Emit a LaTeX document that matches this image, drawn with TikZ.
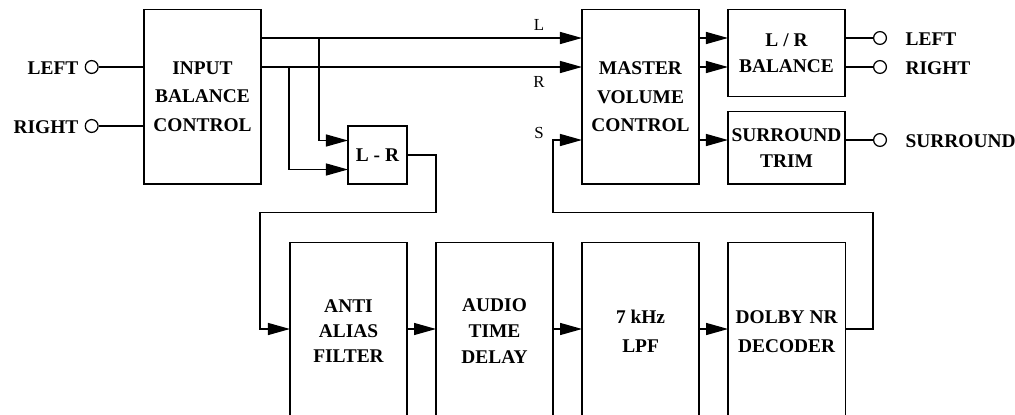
\documentclass[tikz,border=0pt]{standalone}
\usepackage{fontspec}
\setmainfont{Liberation Serif}
\usetikzlibrary{arrows.meta, positioning}

\begin{document}
\begin{tikzpicture}[
                x=0.025cm, y=-0.025cm,
                line width=0.9pt,
                node distance=0.725cm,
                block/.style={rectangle, draw=black, inner sep=0pt, outer sep=0pt, minimum width=2.925cm, align=center, font=\fontsize{13.8}{20.5}\selectfont\bfseries},
                tall/.style={block, minimum height=4.4325cm},
                jack/.style={circle, draw=black, fill=white, minimum size=0.32cm, inner sep=0pt},
                port/.style={inner sep=0pt, font=\fontsize{13.8}{16}\selectfont\bfseries},
                sig/.style={inner sep=0pt, font=\fontsize{12}{14}\selectfont},
                arrow/.style={-{Triangle[length=0.55cm, width=0.3cm]}}
            ]%
            \useasboundingbox (0,0) rectangle (1015,415);
            \clip (0,0) rectangle (1015,415);
            %
            % Niveles de las senales
            \coordinate (yL) at (0,38);
            \coordinate (yR) at (0,67);
            \coordinate (yS) at (0,140);
            \coordinate (ytop) at (0,212.7);
            \coordinate (ybot) at (0,329);
            %
            % Bloques superiores
            \node[block, minimum height=4.3675cm] (ibc) at (202.5,96.7) {INPUT\\BALANCE\\CONTROL};
            \node[block, minimum width=1.475cm, minimum height=1.45cm] (lmr) at (377.5,155) {L - R};
            \node[block, minimum height=4.3675cm] (mvc) at (640.5,96.7) {MASTER\\VOLUME\\CONTROL};
            \node[block, minimum height=2.185cm, font=\fontsize{13.8}{18.5}\selectfont\bfseries] (lrb) at (786.5,53) {L / R\\BALANCE};
            \node[block, minimum height=1.8075cm, font=\fontsize{13.8}{18.5}\selectfont\bfseries] (strim) at (786.5,147.9) {SURROUND\\TRIM};
            %
            % Bloques inferiores
            \node[tall, font=\fontsize{13.8}{17.8}\selectfont\bfseries] (aaf) at (348.5,331.4) {ANTI\\ALIAS\\FILTER};
            \node[tall, font=\fontsize{13.8}{18.5}\selectfont\bfseries, right=of aaf] (atd) {AUDIO\\TIME\\DELAY};
            \node[tall, right=of atd] (lpf) {7 kHz\\LPF};
            \node[tall, right=of lpf] (dnr) {DOLBY NR\\DECODER};
            %
            % Entradas
            \node[jack] (jinl) at (91.7,67) {};
            \node[jack] (jinr) at (91.7,126) {};
            \node[port, anchor=east] (tinl) at (79,68) {LEFT};
            \node[port, anchor=east] (tinr) at (79,127) {RIGHT};
            \draw (jinl) -- (ibc.west |- jinl);
            \draw (jinr) -- (ibc.west |- jinr);
            %
            % Canales L y R
            \draw[arrow] (ibc.east |- yL) -- (mvc.west |- yL);
            \draw[arrow] (ibc.east |- yR) -- (mvc.west |- yR);
            \node[sig] (sigl) at (539,25.3) {L};
            \node[sig] (sigr) at (539,82) {R};
            \node[sig] (sigs) at (539,133) {S};
            %
            % Derivaciones hacia L - R
            \coordinate (tapl) at (319,38);
            \coordinate (tapr) at (289,67);
            \draw[arrow] (tapl) |- ([yshift=0.3625cm]lmr.west);
            \draw[arrow] (tapr) |- ([yshift=-0.3625cm]lmr.west);
            %
            % L - R hacia la cadena surround
            \coordinate (aain) at (260,329);
            \draw[arrow] (lmr.east) -| (atd.west |- ytop) -| (aain) -- (aaf.west |- aain);
            \draw[arrow] (aaf.east |- ybot) -- (atd.west |- ybot);
            \draw[arrow] (atd.east |- ybot) -- (lpf.west |- ybot);
            \draw[arrow] (lpf.east |- ybot) -- (dnr.west |- ybot);
            %
            % Retorno S
            \coordinate (fbk) at (873,329);
            \draw[arrow] (dnr.east |- fbk) -- (fbk) |- (atd.east |- ytop) |- (mvc.west |- yS);
            %
            % Salidas del control maestro
            \draw[arrow] (mvc.east |- yL) -- (lrb.west |- yL);
            \draw[arrow] (mvc.east |- yR) -- (lrb.west |- yR);
            \draw[arrow] (mvc.east |- yS) -- (strim.west |- yS);
            %
            % Salidas
            \node[jack] (joutl) at (880,38) {};
            \node[jack] (joutr) at (880,67) {};
            \node[jack] (jouts) at (880,140) {};
            \draw (lrb.east |- joutl) -- (joutl);
            \draw (lrb.east |- joutr) -- (joutr);
            \draw (strim.east |- jouts) -- (jouts);
            \node[port, anchor=west] (toutl) at (905,39.5) {LEFT};
            \node[port, anchor=west] (toutr) at (905,68.5) {RIGHT};
            \node[port, anchor=west] (touts) at (905,141.5) {SURROUND};
        \end{tikzpicture}
\end{document}
